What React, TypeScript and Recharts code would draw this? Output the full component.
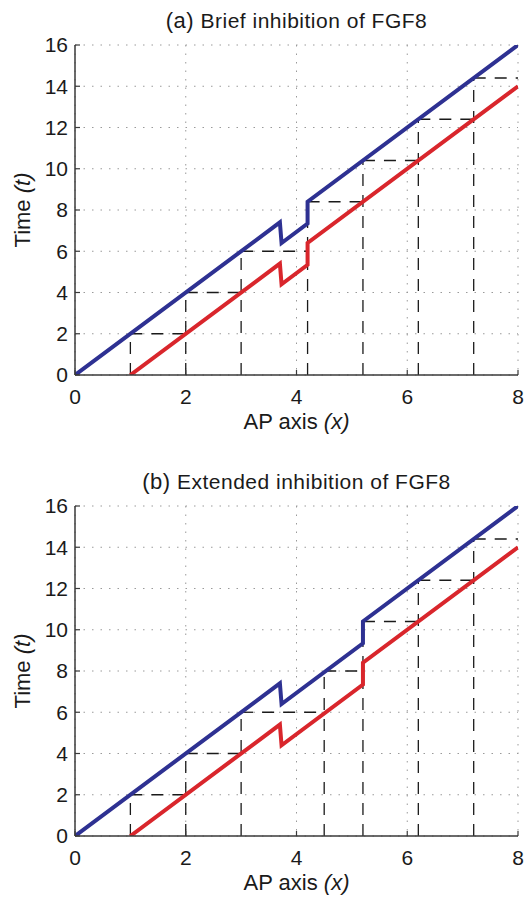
import { LineChart, Line, XAxis, YAxis, CartesianGrid, ReferenceLine } from "recharts"

const xTicks = [0, 2, 4, 6, 8]
const tTicks = [0, 2, 4, 6, 8, 10, 12, 14, 16]

// (a) brief inhibition
const briefBlueX = [0, 3.7, 3.73, 4.2, 4.2, 8]
const briefBlueT = [0, 7.4, 6.4, 7.34, 8.4, 16]
const briefRedX = [1, 3.7, 3.73, 4.2, 4.2, 8]
const briefRedT = [0, 5.4, 4.4, 5.34, 6.4, 14]
const briefSomiteX = [1, 2, 3, 4.2, 5.2, 6.2, 7.2]
const briefSomiteT = [2, 4, 6, 8.4, 10.4, 12.4, 14.4]

// (b) extended inhibition
const extBlueX = [0, 3.7, 3.73, 5.2, 5.2, 8]
const extBlueT = [0, 7.4, 6.4, 9.34, 10.4, 16]
const extRedX = [1, 3.7, 3.73, 5.2, 5.2, 8]
const extRedT = [0, 5.4, 4.4, 7.34, 8.4, 14]
const extSomiteX = [1, 2, 3, 4.5, 5.2, 6.2, 7.2]
const extSomiteT = [2, 4, 6, 8, 10.4, 12.4, 14.4]

const FONT = "'Liberation Sans', Arial, Helvetica, sans-serif"
const INK = "#1a1a1a"
const FRAME = "#3a3a3a"

const toPoints = (xs: number[], ts: number[]) => xs.map((x, i) => ({ x, t: ts[i] }))

const toSegments = (xs: number[], ts: number[]) =>
  xs.flatMap((x, i) => {
    const next = i + 1 < xs.length ? xs[i + 1] : xTicks[xTicks.length - 1]
    return [
      [{ x, y: 0 }, { x, y: ts[i] }],
      [{ x, y: ts[i] }, { x: next, y: ts[i] }],
    ]
  })

const YTitle = (props: any) => {
  const vb = props.viewBox || {}
  const cx = 22
  const cy = vb.y + vb.height / 2
  return (
    <text x={cx} y={cy} transform={`rotate(-90, ${cx}, ${cy})`} textAnchor="middle" dy="0.35em"
      fontFamily={FONT} fontSize={22} fill={INK}>
      Time <tspan fontStyle="italic">(t)</tspan>
    </text>
  )
}

const XTitle = (props: any) => {
  const vb = props.viewBox || {}
  return (
    <text x={vb.x + vb.width / 2} y={vb.y + 46} textAnchor="middle" dy="0.35em"
      fontFamily={FONT} fontSize={22} fill={INK}>
      AP axis <tspan fontStyle="italic">(x)</tspan>
    </text>
  )
}

type PanelProps = {
  top: number
  tag: string
  title: string
  blue: { x: number; t: number }[]
  red: { x: number; t: number }[]
  segments: { x: number; y: number }[][]
}

function Panel({ top, tag, title, blue, red, segments }: PanelProps) {
  const tickStyle = { fontSize: 21, fontFamily: FONT, fill: INK }
  return (
    <div style={{ position: "absolute", left: 0, top, width: 525, height: 436 }}>
      <div
        style={{
          position: "absolute",
          left: 75,
          width: 443,
          top: 8,
          textAlign: "center",
          fontFamily: FONT,
          fontSize: 21,
          letterSpacing: 0.5,
          color: INK,
          lineHeight: "26px",
          whiteSpace: "nowrap",
        }}
      >
        <span style={{ fontSize: 22 }}>{tag}</span> {title}
      </div>
      <LineChart width={525} height={436} margin={{ top: 45, right: 7, bottom: 0, left: 0 }}>
        <CartesianGrid stroke="#9a9a9a" strokeDasharray="1.5 7" />
        <XAxis
          type="number"
          dataKey="x"
          domain={[0, 8]}
          ticks={xTicks}
          interval={0}
          allowDataOverflow
          height={61}
          tickSize={-5}
          tickMargin={19}
          tick={tickStyle}
          axisLine={{ stroke: FRAME, strokeWidth: 1.5 }}
          tickLine={{ stroke: FRAME, strokeWidth: 1.2 }}
          label={<XTitle />}
        />
        <XAxis
          xAxisId="top"
          orientation="top"
          type="number"
          domain={[0, 8]}
          ticks={xTicks}
          interval={0}
          allowDataOverflow
          height={0}
          tickSize={-5}
          tick={false}
          axisLine={{ stroke: FRAME, strokeWidth: 1.5 }}
          tickLine={{ stroke: FRAME, strokeWidth: 1.2 }}
        />
        <YAxis
          type="number"
          domain={[0, 16]}
          ticks={tTicks}
          interval={0}
          allowDataOverflow
          width={75}
          tickSize={-5}
          tickMargin={12}
          tick={tickStyle}
          axisLine={{ stroke: FRAME, strokeWidth: 1.5 }}
          tickLine={{ stroke: FRAME, strokeWidth: 1.2 }}
          label={<YTitle />}
        />
        <YAxis
          yAxisId="right"
          orientation="right"
          type="number"
          domain={[0, 16]}
          ticks={tTicks}
          interval={0}
          allowDataOverflow
          width={0}
          tickSize={-5}
          tick={false}
          axisLine={{ stroke: FRAME, strokeWidth: 1.5 }}
          tickLine={{ stroke: FRAME, strokeWidth: 1.2 }}
        />
        {segments.map((seg, i) => (
          <ReferenceLine
            key={i}
            segment={seg}
            stroke={INK}
            strokeWidth={1.3}
            strokeDasharray="12 9"
            ifOverflow="visible"
          />
        ))}
        <Line data={blue} dataKey="t" type="linear" stroke="#2e3192" strokeWidth={4} dot={false} isAnimationActive={false} />
        <Line data={red} dataKey="t" type="linear" stroke="#d9262c" strokeWidth={4} dot={false} isAnimationActive={false} />
      </LineChart>
    </div>
  )
}

export default function App() {
  return (
    <div style={{ position: "fixed", left: 0, top: 0, width: 525, height: 897, background: "#fff" }}>
      <Panel
        top={0}
        tag="(a)"
        title="Brief inhibition of FGF8"
        blue={toPoints(briefBlueX, briefBlueT)}
        red={toPoints(briefRedX, briefRedT)}
        segments={toSegments(briefSomiteX, briefSomiteT)}
      />
      <Panel
        top={461}
        tag="(b)"
        title="Extended inhibition of FGF8"
        blue={toPoints(extBlueX, extBlueT)}
        red={toPoints(extRedX, extRedT)}
        segments={toSegments(extSomiteX, extSomiteT)}
      />
    </div>
  )
}
